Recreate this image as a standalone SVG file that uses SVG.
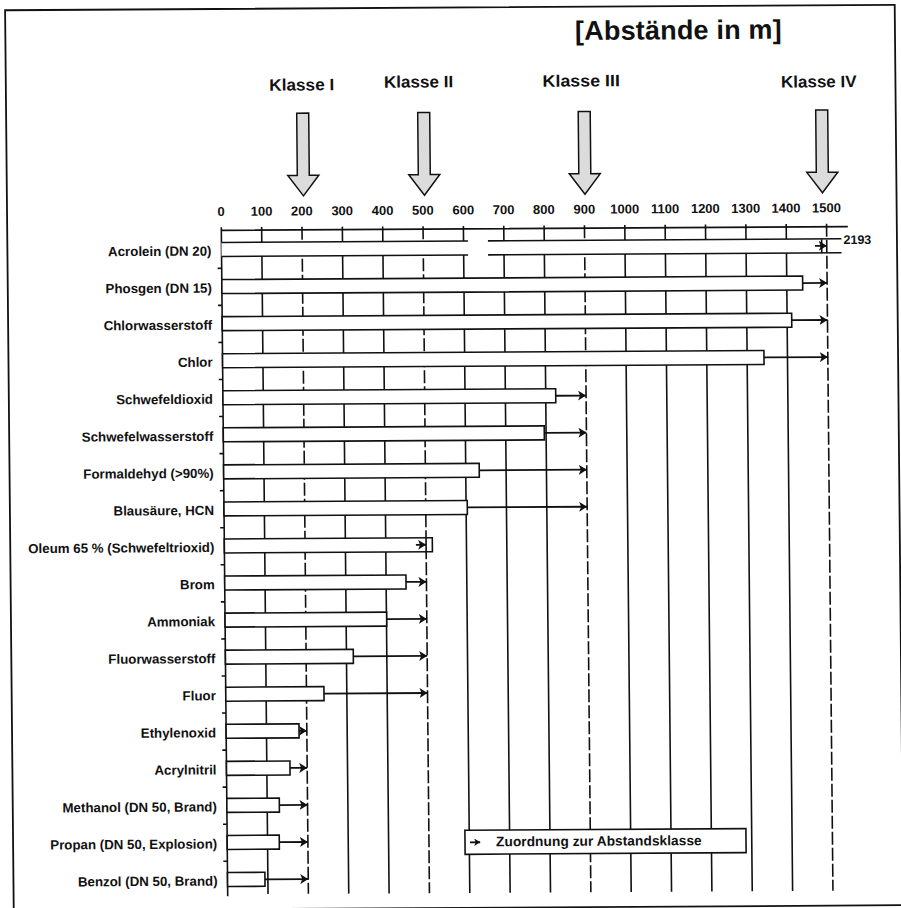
<svg xmlns="http://www.w3.org/2000/svg" width="901" height="908" viewBox="0 0 901 908">
<style>
.frame{fill:none;stroke:#111;stroke-width:1.8}
.grid{fill:none;stroke:#111;stroke-width:1.6}
.cls{stroke-dasharray:13 3}
.bar{fill:#fff;stroke:#111;stroke-width:1.6}
.arr{fill:none;stroke:#111;stroke-width:1.8;marker-end:url(#ah)}
.t{font-family:"Liberation Sans",Arial,sans-serif;font-weight:bold;fill:#111}
.lbl{font-size:13.3px;text-anchor:end}
.num{font-size:13px;text-anchor:middle}
.kl{font-size:16.5px;text-anchor:middle}
.big{fill:#dcdcdc;stroke:#111;stroke-width:1.5}
</style>
<defs>
<marker id="ah" viewBox="0 0 8 10" refX="8" refY="5" markerWidth="8" markerHeight="10" markerUnits="userSpaceOnUse" orient="auto"><path d="M0,0 L8,5 L0,10 L2,5 z" fill="#111"/></marker>
<marker id="ahs" viewBox="0 0 8 10" refX="8" refY="5" markerWidth="6" markerHeight="7.5" markerUnits="userSpaceOnUse" orient="auto"><path d="M0,0 L8,5 L0,10 L2,5 z" fill="#111"/></marker>
</defs>
<rect x="0" y="0" width="901" height="908" fill="#fff"/>
<g transform="matrix(1 -0.006 0.0096 1 -5.376 2.7)">
<rect class="frame" x="10.4" y="7.6" width="889.6" height="900.3"/>
<text class="t" x="580.1" y="40.7" font-size="27" textLength="206.7" lengthAdjust="spacing">[Abstände in m]</text>

<g id="klassen">
<g id="klasse1"><text class="t kl" x="306.3" y="89.6" textLength="65" lengthAdjust="spacingAndGlyphs">Klasse I</text>
<polygon class="big" points="301,112.3 313,112.3 313,174.5 322.5,174.5 307,195 291.5,174.5 301,174.5"/></g>
<g id="klasse2"><text class="t kl" x="423.2" y="87.3" textLength="69.3" lengthAdjust="spacingAndGlyphs">Klasse II</text>
<polygon class="big" points="422,112.3 434,112.3 434,174.5 443.5,174.5 428,195 412.5,174.5 422,174.5"/></g>
<g id="klasse3"><text class="t kl" x="585.8" y="87.3" textLength="77.3" lengthAdjust="spacingAndGlyphs">Klasse III</text>
<polygon class="big" points="582.5,112.3 594.5,112.3 594.5,174.5 604,174.5 588.5,195 573,174.5 582.5,174.5"/></g>
<g id="klasse4"><text class="t kl" x="823.3" y="89.5" textLength="75.7" lengthAdjust="spacingAndGlyphs">Klasse IV</text>
<polygon class="big" points="820,112.3 832,112.3 832,174.5 841.5,174.5 826,195 810.5,174.5 820,174.5"/></g>
</g>

<g id="axis">
<g class="t num">
<text x="224.5" y="214.6">0</text><text x="264.85" y="214.6">100</text><text x="305.2" y="214.6">200</text><text x="345.55" y="214.6">300</text><text x="385.9" y="214.6">400</text><text x="426.25" y="214.6">500</text><text x="466.6" y="214.6">600</text><text x="506.95" y="214.6">700</text><text x="547.3" y="214.6">800</text><text x="587.65" y="214.6">900</text><text x="628" y="214.6">1000</text><text x="668.35" y="214.6">1100</text><text x="708.7" y="214.6">1200</text><text x="749.05" y="214.6">1300</text><text x="789.4" y="214.6">1400</text><text x="829.75" y="214.6">1500</text>
</g>
<path class="grid" d="M264.85,226V893M345.55,226V893M385.9,226V893M466.6,226V893M506.95,226V893M547.3,226V893M628,226V893M668.35,226V893M708.7,226V893M749.05,226V893M789.4,226V893"/>
<path class="grid cls" d="M305.2,226V893M426.25,226V893M587.65,226V893M829.75,226V893"/>
<path class="grid" d="M224.5,226V895M224.5,229H851"/>
<path class="grid" d="M220.5,266.95H224.5M220.5,304.01H224.5M220.5,341.07H224.5M220.5,378.13H224.5M220.5,415.19H224.5M220.5,452.25H224.5M220.5,489.31H224.5M220.5,526.37H224.5M220.5,563.43H224.5M220.5,600.49H224.5M220.5,637.55H224.5M220.5,674.61H224.5M220.5,711.67H224.5M220.5,748.73H224.5M220.5,785.79H224.5M220.5,822.85H224.5M220.5,859.91H224.5"/>
</g>

<g id="acrolein">
<text class="t lbl" x="214.5" y="254.15">Acrolein (DN 20)</text>
<rect x="224.5" y="241.15" width="600.2" height="14" fill="#fff"/>
<path class="grid" d="M224.5,241.15H471M224.5,255.15H471M491,241.15H844.5M491,255.15H844.5M824.7,241.15V255.15"/>
<text class="t" x="846.5" y="246.4" font-size="12.5">2193</text>
</g>
<g id="phosgen"><text class="t lbl" x="214.5" y="291.21">Phosgen (DN 15)</text><rect class="bar" x="224.5" y="278.21" width="580.8" height="14"/></g>
<g id="chlorwasserstoff"><text class="t lbl" x="214.5" y="328.27">Chlorwasserstoff</text><rect class="bar" x="224.5" y="315.27" width="569.5" height="14"/></g>
<g id="chlor"><text class="t lbl" x="214.5" y="365.33">Chlor</text><rect class="bar" x="224.5" y="352.33" width="541.4" height="14"/></g>
<g id="schwefeldioxid"><text class="t lbl" x="214.5" y="402.39">Schwefeldioxid</text><rect class="bar" x="224.5" y="389.39" width="332.8" height="14"/></g>
<g id="schwefelwasserstoff"><text class="t lbl" x="214.5" y="439.45">Schwefelwasserstoff</text><rect class="bar" x="224.5" y="426.45" width="321" height="14"/></g>
<g id="formaldehyd"><text class="t lbl" x="214.5" y="476.51">Formaldehyd (&gt;90%)</text><rect class="bar" x="224.5" y="463.51" width="255.6" height="14"/></g>
<g id="blausaeure"><text class="t lbl" x="214.5" y="513.57">Blausäure, HCN</text><rect class="bar" x="224.5" y="500.57" width="243.3" height="14"/></g>
<g id="oleum"><text class="t lbl" x="214.5" y="550.63">Oleum 65 % (Schwefeltrioxid)</text><rect class="bar" x="224.5" y="537.63" width="208" height="14"/><path class="grid" d="M426.25,537.63V551.63"/></g>
<g id="brom"><text class="t lbl" x="214.5" y="587.69">Brom</text><rect class="bar" x="224.5" y="574.69" width="181.3" height="14"/></g>
<g id="ammoniak"><text class="t lbl" x="214.5" y="624.75">Ammoniak</text><rect class="bar" x="224.5" y="611.75" width="161.6" height="14"/></g>
<g id="fluorwasserstoff"><text class="t lbl" x="214.5" y="661.81">Fluorwasserstoff</text><rect class="bar" x="224.5" y="648.81" width="127.9" height="14"/></g>
<g id="fluor"><text class="t lbl" x="214.5" y="698.87">Fluor</text><rect class="bar" x="224.5" y="685.87" width="98.2" height="14"/></g>
<g id="ethylenoxid"><text class="t lbl" x="214.5" y="735.93">Ethylenoxid</text><rect class="bar" x="224.5" y="722.93" width="72.9" height="14"/></g>
<g id="acrylnitril"><text class="t lbl" x="214.5" y="772.99">Acrylnitril</text><rect class="bar" x="224.5" y="759.99" width="63.5" height="14"/></g>
<g id="methanol"><text class="t lbl" x="214.5" y="810.05">Methanol (DN 50, Brand)</text><rect class="bar" x="224.5" y="797.05" width="52.5" height="14"/></g>
<g id="propan"><text class="t lbl" x="214.5" y="847.11">Propan (DN 50, Explosion)</text><rect class="bar" x="224.5" y="834.11" width="52.1" height="14"/></g>
<g id="benzol"><text class="t lbl" x="214.5" y="884.17">Benzol (DN 50, Brand)</text><rect class="bar" x="224.5" y="871.17" width="37.4" height="14"/></g>

<g id="connectors">
<path class="arr" d="M818,248.15H829.75"/>
<path class="arr" d="M805.3,285.21H829.75"/>
<path class="arr" d="M794,322.27H829.75"/>
<path class="arr" d="M765.9,359.33H829.75"/>
<path class="arr" d="M557.3,396.39H587.65"/>
<path class="arr" d="M545.5,433.45H587.65"/>
<path class="arr" d="M480.1,470.51H587.65"/>
<path class="arr" d="M467.8,507.57H587.65"/>
<path class="arr" d="M416,544.63H426.25"/>
<path class="arr" d="M405.8,581.69H426.25"/>
<path class="arr" d="M386.1,618.75H426.25"/>
<path class="arr" d="M352.4,655.81H426.25"/>
<path class="arr" d="M322.7,692.87H426.25"/>
<path class="arr" d="M297.4,729.93H305.2"/>
<path class="arr" d="M288,766.99H305.2"/>
<path class="arr" d="M277,804.05H305.2"/>
<path class="arr" d="M276.6,841.11H305.2"/>
<path class="arr" d="M261.9,878.17H305.2"/>
</g>

<g id="legend">
<rect class="bar" x="462.3" y="830.4" width="281" height="24"/>
<path d="M467.3,842.4H477.5" stroke="#111" stroke-width="1.8" marker-end="url(#ahs)"/>
<text class="t" x="493.3" y="846.6" font-size="13.7" textLength="205.7" lengthAdjust="spacing">Zuordnung zur Abstandsklasse</text>
</g>
</g>
</svg>
